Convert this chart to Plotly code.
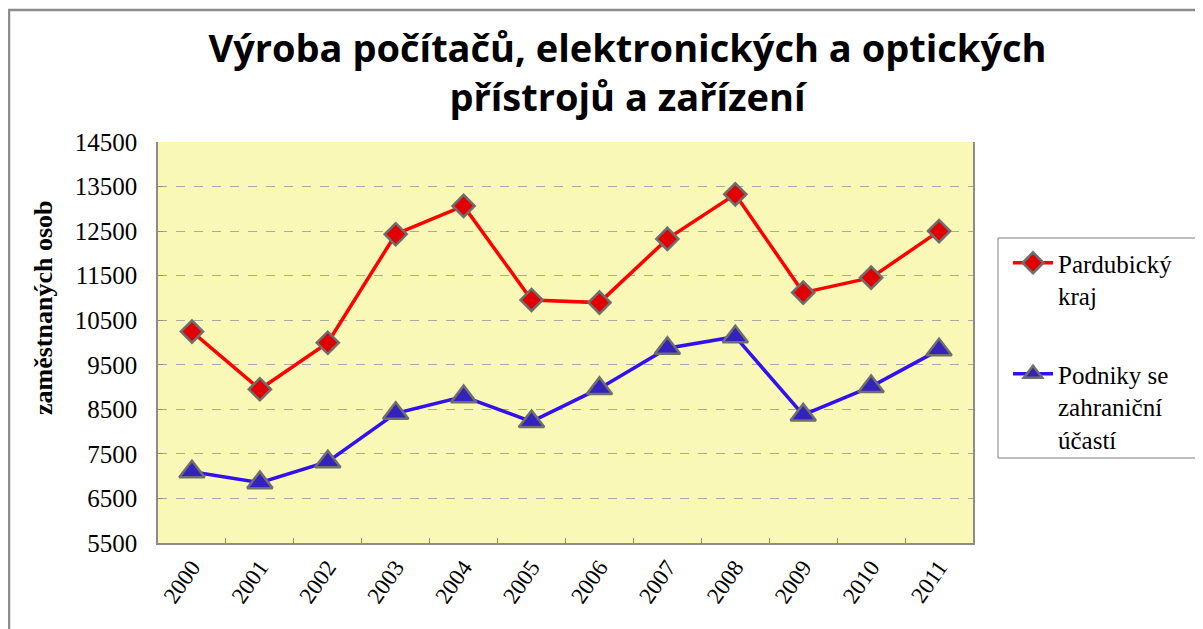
import plotly.graph_objects as go

years = ["2000", "2001", "2002", "2003", "2004", "2005", "2006", "2007", "2008", "2009", "2010", "2011"]
pardubicky = [10245, 8950, 9995, 12430, 13065, 10955, 10895, 12325, 13325, 11120, 11455, 12500]
zahranicni = [7100, 6855, 7325, 8410, 8785, 8225, 8970, 9870, 10130, 8375, 9010, 9835]
y_ticks = [5500, 6500, 7500, 8500, 9500, 10500, 11500, 12500, 13500, 14500]

# page has an 8px body margin; all pixel positions below are page coords minus 8
OFF = 8
W, H = 1203 - OFF, 629 - OFF
L, R, T, B = 158 - OFF, 973 - OFF, 142 - OFF, 543 - OFF

fig = go.Figure()
fig.add_trace(go.Scatter(
    x=years, y=pardubicky, mode="lines+markers", name="Pardubický<br>kraj",
    legendgroup="a",
    line=dict(color="#FF0000", width=3.5),
    marker=dict(symbol="diamond", size=17, color="#E00000", line=dict(color="#6E6E6E", width=2.5)),
))
fig.add_trace(go.Scatter(
    x=years, y=zahranicni, mode="lines+markers", name="Podniky se<br>zahraniční<br>účastí",
    legendgroup="b",
    line=dict(color="#3311EE", width=3.5),
    marker=dict(symbol="triangle-up", size=22, color="#3322BB", line=dict(color="#6E6E6E", width=2.5)),
))

pw, ph = R - L, B - T
def px(x):
    return (x - OFF - L) / pw
def py(y):
    return (B - (y - OFF)) / ph

fig.update_layout(
    width=W, height=H,
    margin=dict(l=L, r=W - R, t=T, b=H - B, autoexpand=False),
    paper_bgcolor="white",
    plot_bgcolor="#FAF8B6",
    title=dict(
        text="Výroba počítačů, elektronických a optických<br>přístrojů a zařízení",
        x=((205 + 1050) / 2 - OFF) / W, xanchor="center",
        y=1 - (62 - OFF) / H, yanchor="middle",
        font=dict(family="Open Sans", size=38, color="black", weight="bold"),
    ),
    font=dict(family="Liberation Serif", color="black"),
    showlegend=True,
    legend=dict(
        x=px(1008), xanchor="left", y=py(240), yanchor="top",
        borderwidth=0, bgcolor="rgba(0,0,0,0)",
        font=dict(family="Liberation Serif", size=25, color="black"),
        tracegroupgap=43, itemwidth=40, valign="top",
    ),
    xaxis=dict(
        type="category", range=[-0.5, len(years) - 0.5],
        tickson="boundaries", ticks="inside", ticklen=5,
        tickcolor="#8C8C8C", showline=True, linecolor="#8C8C8C", linewidth=1.5,
        showgrid=False, tickangle=-55,
        tickfont=dict(family="Liberation Serif", size=23, color="black"),
    ),
    yaxis=dict(
        range=[5500, 14500], tickvals=y_ticks, ticktext=[str(v) for v in y_ticks],
        ticks="inside", ticklen=5, tickcolor="#8C8C8C",
        showline=True, linecolor="#8C8C8C", linewidth=1.5, mirror=True,
        showgrid=True, gridcolor="#A8A8A8", griddash="dash", gridwidth=1,
        zeroline=False, ticklabelstandoff=14,
        tickfont=dict(family="Liberation Serif", size=25, color="black"),
    ),
    annotations=[
        dict(text="<b>zaměstnaných osob</b>", xref="paper", yref="paper",
             x=px(43), y=py(308), xanchor="center", yanchor="middle",
             textangle=-90, showarrow=False,
             font=dict(family="Liberation Serif", size=26, color="black")),
    ],
    shapes=[
        dict(type="line", xref="paper", yref="paper", x0=px(8), x1=px(1215), y0=py(10), y1=py(10),
             line=dict(color="#8C8C8C", width=2.5)),
        dict(type="line", xref="paper", yref="paper", x0=px(9), x1=px(9), y0=py(10), y1=py(640),
             line=dict(color="#8C8C8C", width=2.5)),
        dict(type="rect", xref="paper", yref="paper", x0=px(998), x1=px(1198), y0=py(238), y1=py(458),
             line=dict(color="#7F7F7F", width=1), fillcolor="white", layer="above"),
    ],
)

fig.write_html("out.html")
